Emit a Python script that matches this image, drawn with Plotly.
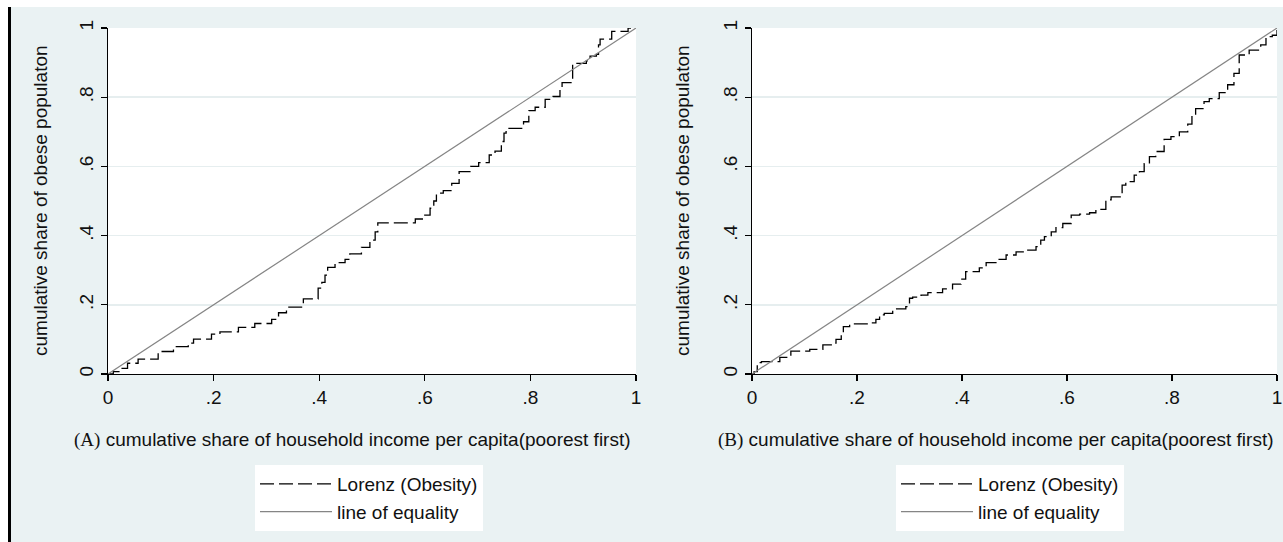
import plotly.graph_objects as go

# ---------------- data ----------------
lorenz_a_x = [0.000, 0.010, 0.022, 0.037, 0.057, 0.095, 0.124, 0.152, 0.162, 0.196,
              0.212, 0.247, 0.278, 0.310, 0.323, 0.338, 0.370, 0.398, 0.405, 0.411,
              0.416, 0.430, 0.449, 0.458, 0.480, 0.496, 0.506, 0.511, 0.582, 0.600,
              0.610, 0.617, 0.622, 0.635, 0.651, 0.665, 0.687, 0.702, 0.722, 0.733,
              0.745, 0.750, 0.754, 0.787, 0.797, 0.809, 0.828, 0.843, 0.856, 0.860,
              0.880, 0.906, 0.913, 0.925, 0.929, 0.932, 0.954, 0.985, 1.000]
lorenz_a_y = [0.000, 0.007, 0.016, 0.031, 0.043, 0.065, 0.079, 0.089, 0.101, 0.115,
              0.122, 0.135, 0.146, 0.158, 0.177, 0.193, 0.217, 0.248, 0.265, 0.286,
              0.308, 0.322, 0.331, 0.347, 0.366, 0.387, 0.411, 0.437, 0.448, 0.459,
              0.479, 0.500, 0.523, 0.530, 0.551, 0.585, 0.600, 0.611, 0.633, 0.644,
              0.672, 0.696, 0.710, 0.729, 0.761, 0.771, 0.794, 0.802, 0.826, 0.842,
              0.898, 0.905, 0.919, 0.924, 0.951, 0.968, 0.990, 1.000, 1.000]

lorenz_b_x = [0.000, 0.004, 0.010, 0.018, 0.053, 0.074, 0.110, 0.135, 0.151, 0.160,
              0.170, 0.174, 0.186, 0.221, 0.236, 0.243, 0.252, 0.268, 0.293, 0.300,
              0.306, 0.322, 0.335, 0.363, 0.382, 0.398, 0.407, 0.433, 0.446, 0.466,
              0.484, 0.503, 0.522, 0.541, 0.550, 0.557, 0.570, 0.579, 0.592, 0.608,
              0.624, 0.643, 0.655, 0.674, 0.684, 0.705, 0.712, 0.728, 0.738, 0.747,
              0.757, 0.769, 0.785, 0.798, 0.814, 0.830, 0.838, 0.845, 0.861, 0.871,
              0.890, 0.906, 0.918, 0.928, 0.947, 0.969, 0.979, 0.991, 1.000]
lorenz_b_y = [0.000, 0.007, 0.033, 0.036, 0.048, 0.066, 0.071, 0.084, 0.089, 0.100,
              0.119, 0.137, 0.145, 0.148, 0.158, 0.171, 0.175, 0.188, 0.195, 0.219,
              0.222, 0.228, 0.235, 0.246, 0.260, 0.274, 0.296, 0.307, 0.322, 0.331,
              0.344, 0.353, 0.358, 0.368, 0.387, 0.397, 0.411, 0.423, 0.435, 0.459,
              0.462, 0.466, 0.476, 0.503, 0.512, 0.546, 0.556, 0.575, 0.585, 0.608,
              0.628, 0.643, 0.678, 0.686, 0.700, 0.722, 0.748, 0.767, 0.787, 0.796,
              0.813, 0.836, 0.869, 0.922, 0.936, 0.951, 0.975, 0.979, 1.000]

equality_x = [0, 1]
equality_y = [0, 1]

tick_vals = [0, 0.2, 0.4, 0.6, 0.8, 1]
tick_text = ["0", ".2", ".4", ".6", ".8", "1"]

lorenz_name = "Lorenz (Obesity)"
equality_name = "line of equality"
y_title = "cumulative share of obese populaton"
x_title_body = "cumulative share of household income per capita(poorest first)"
panel_tags = ["(A)", "(B)"]

# ---------------- figure ----------------
W, H = 1283, 542
BG = "#EAF2F3"
FONT = "Liberation Sans, Arial, sans-serif"
FS = 19

def px_x(p):
    return p / W

def px_y(p):
    return 1 - p / H

fig = go.Figure()

panels = [
    ("x", "y", "legend", lorenz_a_x, lorenz_a_y),
    ("x2", "y2", "legend2", lorenz_b_x, lorenz_b_y),
]
for xa, ya, lg, lx, ly in panels:
    fig.add_trace(go.Scatter(
        x=lx, y=ly, mode="lines", name=lorenz_name, xaxis=xa, yaxis=ya, legend=lg,
        line=dict(color="#000000", width=1.3, dash="14px,5px", shape="hv"),
        hoverinfo="skip"))
    fig.add_trace(go.Scatter(
        x=equality_x, y=equality_y, mode="lines", name=equality_name, xaxis=xa, yaxis=ya,
        legend=lg, line=dict(color="#858585", width=1.2), hoverinfo="skip"))

axis_common = dict(
    range=[0, 1], tickvals=tick_vals, ticktext=tick_text,
    showline=True, linecolor="#000000", linewidth=1.3,
    ticks="outside", ticklen=6, tickwidth=1.3, tickcolor="#000000",
    tickfont=dict(family=FONT, size=FS, color="#111111"),
    ticklabeloverflow="allow",
    zeroline=False, automargin=False, fixedrange=True,
)

y_dom = [px_y(374), px_y(28)]
fig.update_layout(
    xaxis=dict(domain=[px_x(108), px_x(636)], anchor="y", showgrid=False, **axis_common),
    yaxis=dict(domain=y_dom, anchor="x", showgrid=True, gridcolor="#E6EEEF", gridwidth=1.5,
               tickangle=-90, **axis_common),
    xaxis2=dict(domain=[px_x(752), px_x(1277)], anchor="y2", showgrid=False, **axis_common),
    yaxis2=dict(domain=y_dom, anchor="x2", showgrid=True, gridcolor="#E6EEEF", gridwidth=1.5,
                tickangle=-90, **axis_common),
)

legend_common = dict(
    bgcolor="#FFFFFF", borderwidth=0, font=dict(family=FONT, size=FS, color="#111111"),
    xanchor="left", yanchor="top", itemwidth=72, tracegroupgap=0,
    orientation="v", itemclick=False, itemdoubleclick=False,
)
fig.update_layout(
    legend=dict(x=px_x(255), y=px_y(465), **legend_common),
    legend2=dict(x=px_x(896), y=px_y(465), **legend_common),
)

annotations = []
for cx_title, cx_cap, tag in [(41, 352, panel_tags[0]), (683, 995, panel_tags[1])]:
    annotations.append(dict(
        x=px_x(cx_title), y=px_y(201), xref="paper", yref="paper", text=y_title,
        textangle=-90, showarrow=False, xanchor="center", yanchor="middle",
        font=dict(family=FONT, size=FS, color="#111111")))
    annotations.append(dict(
        x=px_x(cx_cap), y=px_y(440), xref="paper", yref="paper",
        text='<span style="font-family:Liberation Serif, Times New Roman, serif">' + tag +
             '</span> ' + x_title_body,
        showarrow=False, xanchor="center", yanchor="middle",
        font=dict(family=FONT, size=FS, color="#111111")))

shapes = [
    dict(type="rect", xref="paper", yref="paper", x0=0, x1=1, y0=px_y(7), y1=1,
         fillcolor="#FFFFFF", line=dict(width=0), layer="below"),
    dict(type="rect", xref="paper", yref="paper", x0=0, x1=px_x(8), y0=0, y1=1,
         fillcolor="#FFFFFF", line=dict(width=0), layer="below"),
    dict(type="rect", xref="paper", yref="paper", x0=px_x(8), x1=px_x(11), y0=0, y1=px_y(7),
         fillcolor="#000000", line=dict(width=0), layer="below"),
]

fig.update_layout(
    width=W, height=H, margin=dict(l=0, r=0, t=0, b=0),
    paper_bgcolor=BG, plot_bgcolor="#FFFFFF",
    annotations=annotations, shapes=shapes, showlegend=True,
    font=dict(family=FONT, size=FS, color="#111111"),
)

fig.write_html(
    "out.html",
    config={"displayModeBar": False, "staticPlot": True},
    post_script="document.body.style.margin='0';document.body.style.padding='0';"
                "document.body.style.overflow='hidden';",
)
